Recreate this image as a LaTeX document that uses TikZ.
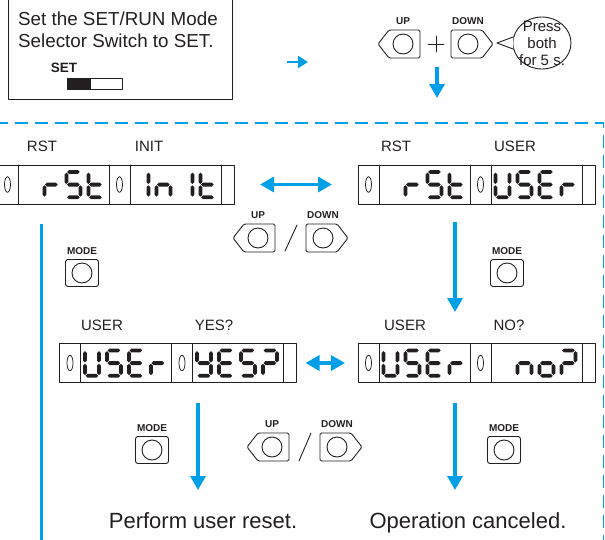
\documentclass[tikz,border=0pt]{standalone}
\usepackage{fontspec}
\setmainfont{Liberation Sans}
\usepackage{xcolor}
\usepackage{tikz}
\usetikzlibrary{arrows.meta,positioning,calc,shapes.geometric}
\definecolor{lcdblue}{HTML}{00A0E9}
\definecolor{inkgray}{HTML}{231F20}

% seven segment glyphs (segments a-g, x = blank)
\def\dgx{x}
\def\dgr{e,g}
\def\dgS{a,f,g,c,d}
\def\dgt{f,g,e,d}
\def\dgI{b,c}
\def\dgn{c,e,g}
\def\dgU{b,c,d,e,f}
\def\dgE{a,d,e,f,g}
\def\dgY{b,c,d,f,g}
\def\dgq{a,b,g,e}
\def\dgo{c,d,e,g}

\newcommand\hseg[3]{\fill[inkgray] (#1,#3) -- (#1+1.9,#3-1.9) -- (#2-1.9,#3-1.9) -- (#2,#3) -- (#2-1.9,#3+1.9) -- (#1+1.9,#3+1.9) -- cycle;}
\newcommand\vseg[3]{\fill[inkgray] (#1,#2) -- (#1+1.9,#2+1.9) -- (#1+1.9,#3-1.9) -- (#1,#3) -- (#1-1.9,#3-1.9) -- (#1-1.9,#2+1.9) -- cycle;}
\newcommand\drawseg[1]{%
	\if#1a\hseg{2.6}{15.2}{1.9}\fi
	\if#1b\vseg{15.9}{2.6}{13.9}\fi
	\if#1c\vseg{15.9}{15.3}{26.6}\fi
	\if#1d\hseg{2.6}{15.2}{27.3}\fi
	\if#1e\vseg{1.9}{15.3}{26.6}\fi
	\if#1f\vseg{1.9}{2.6}{13.9}\fi
	\if#1g\hseg{2.6}{15.2}{14.6}\fi}
\newcommand\segdigit[3]{%
	\begin{scope}[shift={(#1,#2)}]
		\expandafter\let\expandafter\seglist\csname dg#3\endcsname
		\foreach \s in \seglist {\drawseg{\s}}
	\end{scope}}
\newcommand\lcdpanel[4]{% name, centre, left word, right word
	\node[lcd] (#1) at (#2) {};
	\begin{scope}[shift={(#1.north west)}]
		\draw[keyline] (21,0) -- (21,39) (112,0) -- (112,39) (133,0) -- (133,39) (224,0) -- (224,39);
		\draw[zero] (10.5,19.5) ellipse [x radius=3, y radius=7.8];
		\draw[zero] (122.5,19.5) ellipse [x radius=3, y radius=7.8];
		\foreach \c [count=\k from 0] in {#3} {\segdigit{23.5+22*\k}{5}{\c}}
		\foreach \c [count=\k from 0] in {#4} {\segdigit{135.5+22*\k}{5}{\c}}
	\end{scope}}
\newcommand\upkey[2]{%
	\coordinate (#1) at (#2);
	\draw[keyline, rounded corners=1.5pt] ([shift={(17,-14)}]#1) -- ([shift={(-14,-14)}]#1) -- ([shift={(-25,0)}]#1) -- ([shift={(-14,14)}]#1) -- ([shift={(17,14)}]#1) -- cycle;
	\node[keyring] (#1-ring) at (#1) {};
	\node[keytag] (#1-tag) at ([shift={(0,-23)}]#1) {UP};}
\newcommand\downkey[2]{%
	\coordinate (#1) at (#2);
	\draw[keyline, rounded corners=1.5pt] ([shift={(-17,-14)}]#1) -- ([shift={(14,-14)}]#1) -- ([shift={(25,0)}]#1) -- ([shift={(14,14)}]#1) -- ([shift={(-17,14)}]#1) -- cycle;
	\node[keyring] (#1-ring) at (#1) {};
	\node[keytag] (#1-tag) at ([shift={(0,-23)}]#1) {DOWN};}
\newcommand\modekey[2]{%
	\node[modebox] (#1) at (#2) {};
	\node[keyring] (#1-ring) at (#1) {};
	\node[keytag] (#1-tag) at ([shift={(0,-22)}]#1) {MODE};}

\begin{document}
\begin{tikzpicture}[
		x=1pt,y=-1pt,
		line cap=round,
		line join=round,
		keyline/.style={draw=inkgray, line width=0.9pt},
		lcd/.style={draw=inkgray, line width=0.9pt, fill=white, minimum width=237pt, minimum height=39pt, inner sep=0pt, outer sep=0pt},
		zero/.style={draw=inkgray, line width=0.75pt},
		keyring/.style={circle, draw=inkgray, line width=0.9pt, minimum size=20pt, inner sep=0pt},
		modebox/.style={draw=inkgray, line width=0.9pt, rounded corners=2.5pt, minimum width=33pt, minimum height=27pt, inner sep=0pt},
		keytag/.style={font=\fontsize{10}{12}\selectfont\bfseries, text=inkgray, inner sep=0pt},
		settag/.style={font=\fontsize{13.5}{15}\selectfont\bfseries, text=inkgray, inner sep=0pt, anchor=base},
		caption/.style={font=\fontsize{15}{17}\selectfont, text=inkgray, inner sep=0pt},
		bigtext/.style={font=\fontsize{18.8}{22}\selectfont, text=inkgray, inner sep=0pt, anchor=base west},
		result/.style={font=\fontsize{22}{26}\selectfont, text=inkgray, inner sep=0pt, anchor=base},
		flow/.style={draw=lcdblue, line width=3.3pt, line cap=butt, -{Triangle[length=14pt,width=15pt]}},
		twoway/.style={draw=lcdblue, line width=3.3pt, line cap=butt, {Triangle[length=14pt,width=15pt]}-{Triangle[length=14pt,width=15pt]}},
		rail/.style={draw=lcdblue, line width=3.3pt, line cap=butt},
		frame/.style={draw=lcdblue, line width=1.8pt, line cap=butt, dash pattern=on 13pt off 7pt}
	]
	\useasboundingbox (0,0) rectangle (605,539);
	\clip (0,0) rectangle (605,539);
	
	% Instruction box
	\node[draw=inkgray, line width=0.9pt, minimum width=224pt, minimum height=103pt, inner sep=0pt] (setbox) at (120,47.5) {};
	\node[bigtext] (setline1) at (18,25) {Set the SET/RUN Mode};
	\node[bigtext] (setline2) at (18,47) {Selector Switch to SET.};
	\node[settag] (settext) at (64,72) {SET};
	\node[draw=inkgray, line width=0.8pt, minimum width=55pt, minimum height=11pt, inner sep=0pt, outer sep=0pt] (switch) at (94.5,83.5) {};
	\fill[inkgray] (switch.north west) rectangle ([xshift=24pt]switch.south west);
	\coordinate (hopA) at (287,62);
	\coordinate (hopB) at (308,62);
	\draw[flow, -{Triangle[length=10pt,width=12pt]}, line width=2.8pt] (hopA) -- (hopB);
	
	% UP + DOWN for 5 s
	\upkey{upA}{403,44}
	\draw[keyline] (428,44) -- (444,44) (436,36) -- (436,52);
	\downkey{downA}{468,44}
	\node[ellipse, draw=inkgray, line width=0.9pt, fill=white, minimum width=58pt, minimum height=52pt, inner sep=0pt] (bubble) at (542,43) {};
	\coordinate (bubbletip) at (497,43);
	\fill[white] (bubbletip) -- (bubble.168) -- (bubble.192) -- cycle;
	\draw[keyline] (bubble.168) -- (bubbletip) -- (bubble.192);
	\node[caption, align=center] (bubbletext) at (bubble.center) {Press\\both\\for 5 s.};
	\coordinate (dropA) at (437,67);
	\coordinate (dropB) at (437,98);
	\draw[flow] (dropA) -- (dropB);
	
	% Dashed frame
	\coordinate (frameL) at (-5,123);
	\coordinate (frameC) at (603.5,123);
	\coordinate (frameB) at (603.5,545);
	\draw[frame] (frameL) -- (frameC) -- (frameB);
	
	% Displays
	\lcdpanel{lcdA}{115.5,184.5}{x,r,S,t}{I,n,I,t}
	\lcdpanel{lcdB}{476.5,184.5}{x,r,S,t}{U,S,E,r}
	\lcdpanel{lcdC}{178,363}{U,S,E,r}{Y,E,S,q}
	\lcdpanel{lcdD}{476.5,363}{U,S,E,r}{x,n,o,q}
	\node[caption] (rstA) at (42,146) {RST};
	\node[caption] (initA) at (149,146) {INIT};
	\node[caption] (rstB) at (396,146) {RST};
	\node[caption] (userB) at (515,146) {USER};
	\node[caption] (userC) at (102,325) {USER};
	\node[caption] (yesC) at (214,325) {YES?};
	\node[caption] (userD) at (405,325) {USER};
	\node[caption] (noD) at (509,325) {NO?};
	
	% Keys
	\modekey{modeA}{82,273}
	\upkey{upB}{258,238}
	\draw[keyline] (285,251) -- (297,225);
	\downkey{downB}{323,238}
	\modekey{modeB}{507,273}
	\modekey{modeC}{152,450}
	\upkey{upC}{272,447}
	\draw[keyline] (299,461) -- (311,433);
	\downkey{downC}{337,447}
	\modekey{modeD}{504,450}
	
	% Arrows
	\draw[twoway] ([xshift=26pt]lcdA.east) -- ([xshift=-26pt]lcdB.west);
	\draw[twoway] ([xshift=9pt]lcdC.east) -- ([xshift=-13pt]lcdD.west);
	\coordinate (stepB) at (455,222);
	\coordinate (stepD) at (455,312);
	\draw[flow] (stepB) -- (stepD);
	\coordinate (railTop) at (41.5,224);
	\coordinate (railEnd) at (41.5,545);
	\draw[rail] (railTop) -- (railEnd);
	\coordinate (yesGo) at (198,403);
	\coordinate (yesEnd) at (198,490);
	\draw[flow] (yesGo) -- (yesEnd);
	\coordinate (noGo) at (455,403);
	\coordinate (noEnd) at (455,490);
	\draw[flow] (noGo) -- (noEnd);
	
	% Results
	\node[result] (resetdone) at (203,528) {Perform user reset.};
	\node[result] (canceled) at (468,528) {Operation canceled.};
	
\end{tikzpicture}
\end{document}
